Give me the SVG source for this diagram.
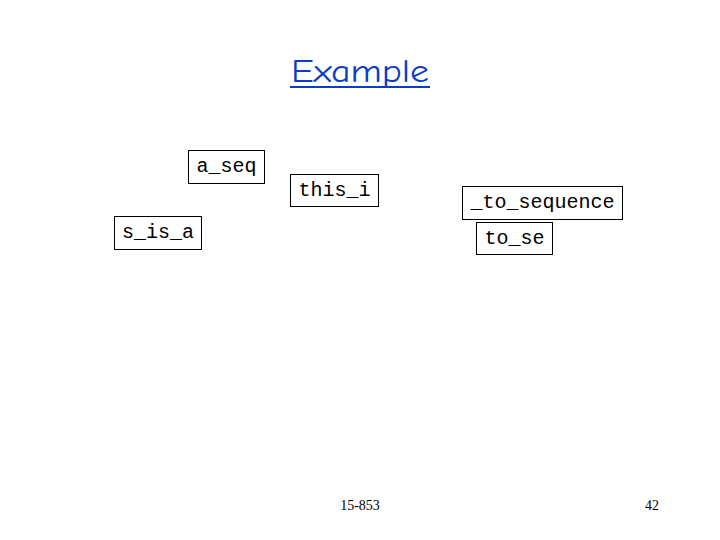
<svg xmlns="http://www.w3.org/2000/svg" width="720" height="540" viewBox="0 0 720 540">
<style>
.box{fill:#fff;stroke:#000;stroke-width:1}
.mono{font-family:"Liberation Mono","Courier New",monospace;font-size:20px;fill:#000}
.foot{font-family:"Liberation Serif","Times New Roman",serif;font-size:14px;fill:#000}
</style>
<rect width="720" height="540" fill="#fff"/>
<g id="title">
<text x="360" y="82" text-anchor="middle" font-family="'Comic Neue','DejaVu Sans',sans-serif" font-size="32" fill="#0a3cc8" textLength="138" lengthAdjust="spacingAndGlyphs">Example</text>
<rect x="290" y="86" width="140" height="2" fill="#0a3cc8"/>
</g>
<g id="connectors"></g>
<g id="a_seq"><rect class="box" x="188.5" y="150.5" width="76" height="33"/><text class="mono" x="226.5" y="172" text-anchor="middle">a_seq</text></g>
<g id="this_i"><rect class="box" x="290.5" y="174.5" width="88" height="32"/><text class="mono" x="334.5" y="196" text-anchor="middle">this_i</text></g>
<g id="s_is_a"><rect class="box" x="114.5" y="216.5" width="87" height="33"/><text class="mono" x="158" y="238" text-anchor="middle">s_is_a</text></g>
<g id="to_sequence"><rect class="box" x="462.5" y="186.5" width="160" height="33"/><text class="mono" x="542.5" y="208" text-anchor="middle">_to_sequence</text></g>
<g id="to_se"><rect class="box" x="476.5" y="222.5" width="76" height="32"/><text class="mono" x="514.5" y="244" text-anchor="middle">to_se</text></g>
<g id="footer">
<text class="foot" x="360" y="510" text-anchor="middle">15-853</text>
<text class="foot" x="652" y="510" text-anchor="middle">42</text>
</g>
</svg>
